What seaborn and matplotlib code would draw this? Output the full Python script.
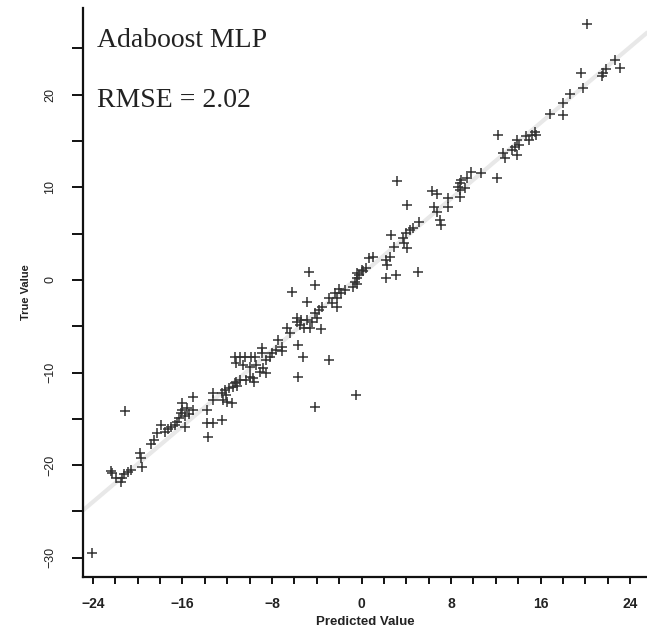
import matplotlib
matplotlib.use("Agg")
import matplotlib.pyplot as plt
import seaborn as sns
import numpy as np
import pandas as pd

predicted = [
    20.1, 19.6, 19.8, 18.6, 18.0, 18.0, 16.8, 21.6, 21.8, 22.6, 23.1, 21.5,
    15.6, 15.2, 15.5, 15.0, 14.7, 13.9, 14.1, 13.4, 13.7, 12.6, 12.8, 13.9,
    12.2, 12.1, 10.7, 9.8, 9.4, 8.9, 8.8, 8.6, 9.2, 8.8, 8.8, 7.7, 7.7, 6.3,
    6.7, 6.5, 6.7, 7.0, 7.1, 5.1, 3.2, 4.1, 4.3, 4.6, 4.0, 3.7, 2.6, 3.8,
    4.1, 2.9, 2.5, 2.2, 2.3, 1.0, 0.7, 0.4, 0.1, -0.2, -0.4, -0.4, -0.8, 2.2,
    3.1, 5.0, 0.0, -0.4, -0.6, -2.0, -1.8, -1.5, -2.4, -2.2, -2.9, -2.6, -2.2,
    -3.5, -4.7, -4.2, -6.2, -4.9, -3.8, -4.2, -4.0, -4.4, -5.8, -5.4, -4.9,
    -5.8, -5.5, -5.1, -4.6, -3.6, -6.7, -6.4, -5.7, -5.2, -2.9, -5.7, -0.5,
    -4.2, -7.5, -7.1, -7.1, -7.6, -8.0, -8.2, -8.5, -8.9, -11.3, -10.9, -10.4,
    -9.9, -9.5, -8.9, -11.2, -10.6, -10.0, -9.4, -8.8, -9.1, -8.5, -10.0, -9.7,
    -9.6, -10.3, -11.2, -11.5, -11.6, -10.9, -11.3, -11.1, -11.8, -12.2, -12.1,
    -12.5, -12.4, -12.0, -13.3, -13.3, -15.1, -16.0, -16.0, -16.1, -15.6, -15.1,
    -15.4, -15.8, -16.3, -16.5, -16.7, -17.0, -17.3, -17.6, -13.8, -13.8, -13.3,
    -12.5, -13.7, -18.3, -18.5, -18.8, -19.8, -19.7, -19.6, -20.6, -20.9, -21.2,
    -21.4, -21.5, -21.9, -22.3, -22.4, -24.1, -21.1, -17.9, -15.8,
]
true_value = [
    27.6, 22.3, 20.7, 20.1, 19.1, 17.8, 17.9, 22.4, 22.8, 23.7, 22.9, 22.0,
    15.7, 15.7, 16.0, 15.1, 15.5, 15.1, 14.6, 14.0, 14.4, 13.7, 13.2, 13.5,
    15.6, 11.0, 11.6, 11.7, 11.0, 10.8, 10.5, 10.0, 9.9, 9.7, 9.0, 8.9, 7.9, 9.6,
    9.3, 7.9, 7.3, 6.5, 5.9, 6.3, 10.7, 8.1, 5.4, 5.6, 5.1, 4.5, 4.8, 4.0,
    3.5, 3.6, 2.5, 2.2, 1.6, 2.5, 2.4, 1.3, 1.0, 0.5, 0.2, -0.4, -0.8, 0.2,
    0.5, 0.9, 1.1, 0.8, -0.2, -1.0, -1.4, -1.1, -1.4, -1.9, -1.9, -2.5, -2.9,
    -2.9, 0.9, -0.5, -1.3, -2.4, -3.2, -3.6, -4.1, -4.5, -4.1, -4.3, -4.3,
    -4.5, -4.9, -5.2, -5.2, -5.3, -5.2, -5.7, -7.0, -8.3, -8.6, -10.5, -12.4,
    -13.7, -6.5, -7.2, -7.7, -7.6, -7.9, -8.3, -8.6, -7.3, -8.3, -8.3, -8.3,
    -8.3, -8.3, -7.9, -9.0, -9.2, -9.4, -9.2, -9.5, -9.9, -10.0, -10.5, -10.6,
    -11.0, -10.8, -11.0, -11.6, -13.3, -10.8, -11.1, -11.5, -11.7, -11.9, -12.4,
    -12.2, -13.0, -13.2, -12.2, -13.0, -12.6, -13.3, -14.0, -14.4, -13.8, -14.0,
    -14.5, -14.7, -14.9, -15.3, -15.7, -15.9, -16.1, -16.4, -14.0, -15.5, -15.5,
    -15.1, -17.0, -16.5, -17.3, -17.7, -18.7, -19.2, -20.2, -20.5, -20.7, -21.0,
    -21.4, -21.8, -21.4, -20.9, -20.6, -29.5, -14.2, -15.7, -15.9,
]
fit_x = [-24.9, 25.5]
fit_y = [-24.9, 26.7]

x_ticks = list(range(-24, 25, 2))
x_labels = [str(v).replace("-", "\u2212") if v % 8 == 0 else "" for v in x_ticks]
y_ticks = list(range(-30, 26, 5))
y_labels = [str(v).replace("-", "\u2212") if v % 10 == 0 else "" for v in y_ticks]

title_text = "Adaboost MLP"
rmse_text = "RMSE = 2.02"

sns.set_theme(style="white")
plt.rcParams["font.family"] = ["Liberation Sans", "DejaVu Sans"]

fig = plt.figure(figsize=(6.47, 6.42), dpi=100)
ax = fig.add_axes([0.128, 0.101, 0.872, 0.887])

df_fit = pd.DataFrame({"x": fit_x, "y": fit_y})
sns.lineplot(data=df_fit, x="x", y="y", ax=ax, color="#e8e8e8", linewidth=3, zorder=1)

df = pd.DataFrame({"Predicted": predicted, "True": true_value})
sns.scatterplot(data=df, x="Predicted", y="True", ax=ax, marker="+", s=50,
                color="#333333", linewidth=1.1, zorder=3)

ax.set_xlim(-24.9, 25.5)
ax.set_ylim(-32.1, 29.4)

ax.set_xticks(x_ticks)
ax.set_xticklabels(x_labels, fontsize=10, fontweight="bold", color="#222222")
ax.set_yticks(y_ticks)
ax.set_yticklabels(y_labels, fontsize=9, rotation=90, va="center", color="#222222")

ax.tick_params(axis="x", direction="out", length=5, width=1.4, color="#111111", pad=9,
               bottom=True)
ax.tick_params(axis="y", direction="out", length=8, width=1.4, color="#111111", pad=11,
               left=True)

for s in ["top", "right"]:
    ax.spines[s].set_visible(False)
for s in ["left", "bottom"]:
    ax.spines[s].set_visible(True)
    ax.spines[s].set_color("#111111")
    ax.spines[s].set_linewidth(1.6)

ax.set_xlabel("Predicted Value", fontsize=9.5, fontweight="bold", color="#222222", labelpad=4)
ax.set_ylabel("True Value", fontsize=8, fontweight="bold", color="#222222", labelpad=10)
ax.grid(False)

ax.text(0.025, 0.931, title_text, transform=ax.transAxes, fontsize=20,
        family=["Liberation Serif", "DejaVu Serif"], color="#222222", va="baseline", ha="left")
ax.text(0.025, 0.826, rmse_text, transform=ax.transAxes, fontsize=20,
        family=["Liberation Serif", "DejaVu Serif"], color="#222222", va="baseline", ha="left")

fig.savefig("out.png", dpi=100)
